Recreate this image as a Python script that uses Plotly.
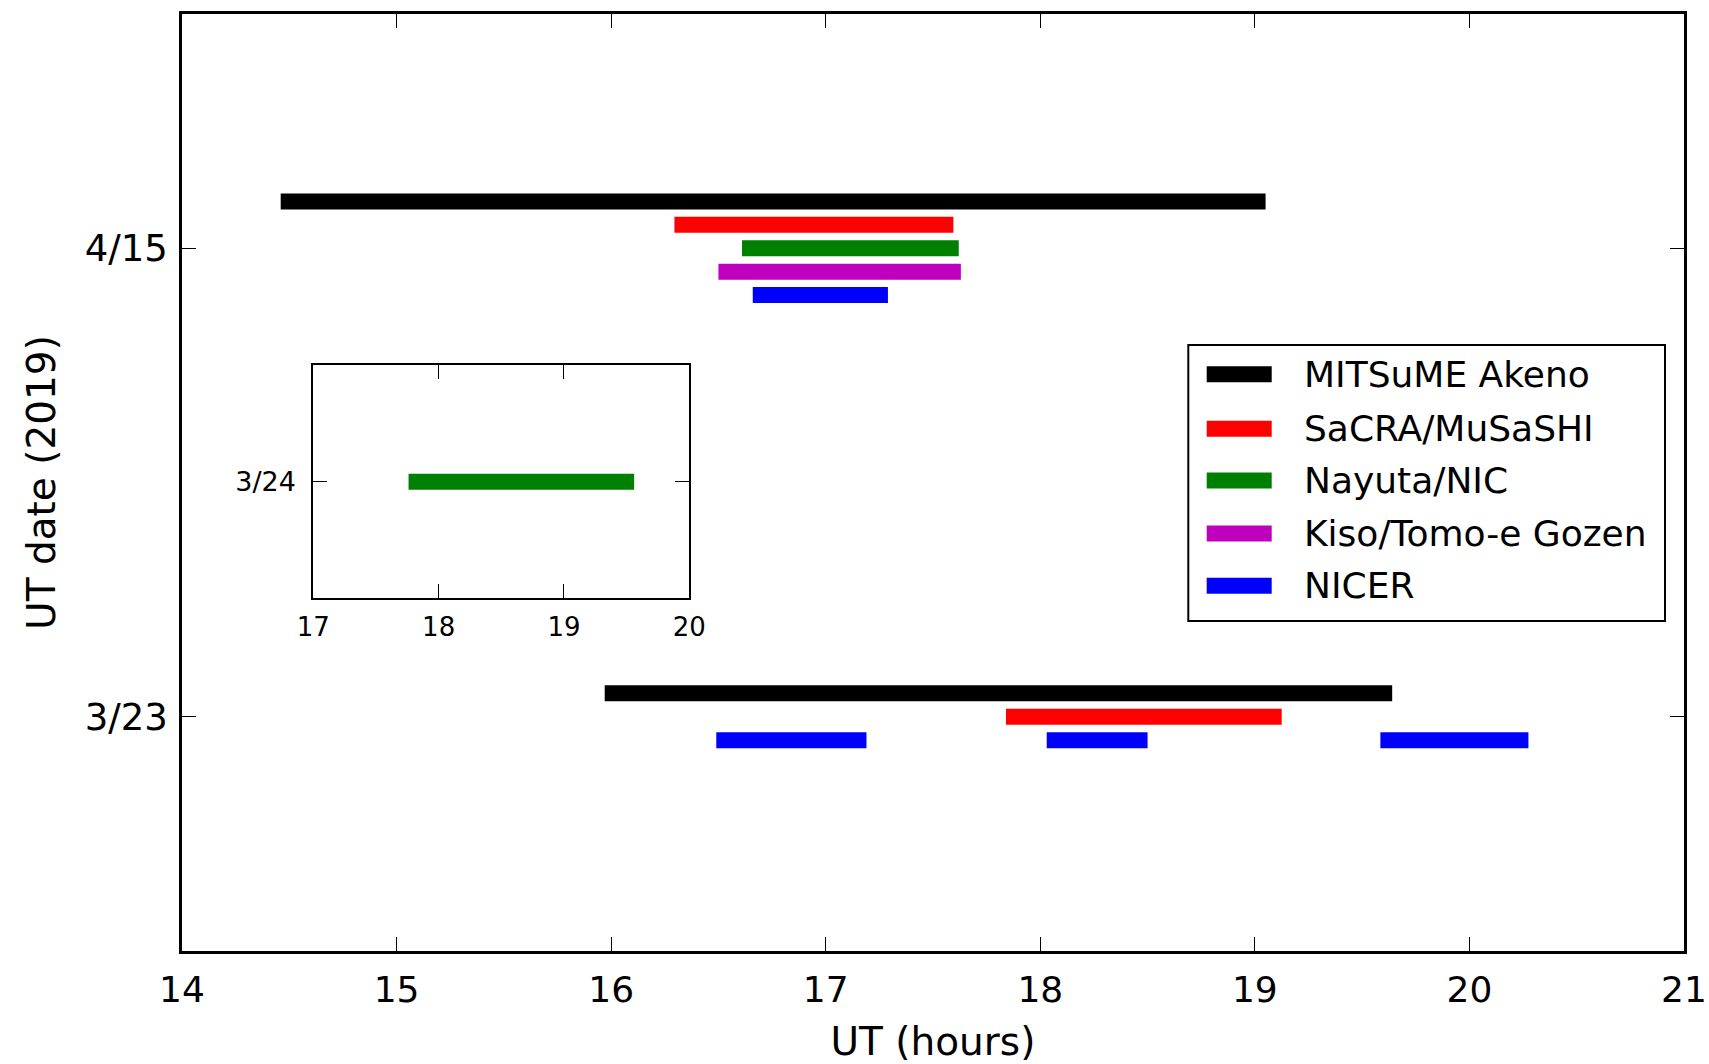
import plotly.graph_objects as go

# ---------------- data ----------------
instruments = ["MITSuME Akeno", "SaCRA/MuSaSHI", "Nayuta/NIC", "Kiso/Tomo-e Gozen", "NICER"]
colors = ["#000000", "#ff0000", "#008000", "#bf00bf", "#0000ff"]

date_labels = ["3/23", "4/15"]
date_values = [0, 1]

# 2019-04-15 (row value 1): one interval per instrument, stacked offsets
apr15_start = [14.46, 16.295, 16.61, 16.50, 16.66]
apr15_end = [19.05, 17.595, 17.62, 17.63, 17.29]
apr15_offset = [0.10, 0.05, 0.00, -0.05, -0.10]

# 2019-03-23 (row value 0)
mar23_instr = ["MITSuME Akeno", "SaCRA/MuSaSHI", "NICER", "NICER", "NICER"]
mar23_start = [15.97, 17.84, 16.49, 18.03, 19.585]
mar23_end = [19.64, 19.125, 17.19, 18.50, 20.275]
mar23_offset = [0.05, 0.00, -0.05, -0.05, -0.05]

# inset: 2019-03-24
inset_label = ["3/24"]
inset_instr = "Nayuta/NIC"
inset_start = [17.76]
inset_end = [19.56]

x_ticks_main = [14, 15, 16, 17, 18, 19, 20, 21]
x_ticks_inset = [17, 18, 19, 20]

# ---------------- figure ----------------
W, H = 1709, 1064
L, R, T, B = 182, 1684, 14, 951
FONT = "DejaVu Sans"
BAR_W = 16

fig = go.Figure()
cmap = dict(zip(instruments, colors))


def add_segments(xs0, xs1, ys, color, xaxis="x", yaxis="y"):
    xx, yy = [], []
    for a, b, y in zip(xs0, xs1, ys):
        xx += [a, b, None]
        yy += [y, y, None]
    fig.add_trace(go.Scatter(x=xx, y=yy, mode="lines",
                             line=dict(color=color, width=BAR_W),
                             showlegend=False, hoverinfo="skip",
                             xaxis=xaxis, yaxis=yaxis))


for name, s, e, o in zip(instruments, apr15_start, apr15_end, apr15_offset):
    add_segments([s], [e], [date_values[1] + o], cmap[name])

for name in instruments:
    idx = [i for i, n in enumerate(mar23_instr) if n == name]
    if idx:
        add_segments([mar23_start[i] for i in idx], [mar23_end[i] for i in idx],
                     [date_values[0] + mar23_offset[i] for i in idx], cmap[name])

add_segments(inset_start, inset_end, [0], cmap[inset_instr], "x2", "y2")

axis_common = dict(showline=True, linecolor="black", mirror="ticks",
                   ticks="inside", tickcolor="black", showgrid=False,
                   zeroline=False, automargin=False)

fig.update_layout(
    width=W, height=H, autosize=False,
    margin=dict(l=L, r=W - R, t=T, b=H - B, pad=0, autoexpand=False),
    paper_bgcolor="white", plot_bgcolor="white",
    font=dict(family=FONT, color="black"),
    showlegend=False,
    xaxis=dict(range=[14, 21], tickvals=x_ticks_main, ticklen=14, tickwidth=1.3,
               linewidth=2.5, tickfont=dict(size=36, family=FONT),
               ticklabelstandoff=5,
               title=dict(text="UT (hours)", font=dict(size=39, family=FONT), standoff=22),
               **axis_common),
    yaxis=dict(range=[-0.5, 1.5], tickvals=date_values, ticktext=date_labels,
               ticklen=14, tickwidth=1.3, linewidth=2.5,
               tickfont=dict(size=37, family=FONT), ticklabelstandoff=4,
               title=dict(text="UT date (2019)", font=dict(size=39, family=FONT), standoff=18),
               **axis_common),
    xaxis2=dict(domain=[(313.3 - L) / (R - L), (689.3 - L) / (R - L)], anchor="y2",
                range=[17, 20], tickvals=x_ticks_inset, ticklen=14, tickwidth=1.3,
                linewidth=2, tickfont=dict(size=26, family=FONT), ticklabelstandoff=4,
                **axis_common),
    yaxis2=dict(domain=[(B - 598.3) / (B - T), (B - 365) / (B - T)], anchor="x2",
                range=[-1, 1], tickvals=[0], ticktext=inset_label, ticklen=14,
                tickwidth=1.3, linewidth=2, tickfont=dict(size=27, family=FONT),
                ticklabelstandoff=10, **axis_common),
)

# ---------------- legend (drawn manually) ----------------
def px_x(p):
    return (p - L) / (R - L)


def px_y(p):
    return (B - p) / (B - T)


fig.add_shape(type="rect", xref="paper", yref="paper",
              x0=px_x(1188.3), x1=px_x(1665), y0=px_y(621), y1=px_y(345),
              line=dict(color="black", width=2), fillcolor="white", layer="above")
leg_y = [374.3, 428.7, 480.5, 533.5, 585.7]
for name, c, yy in zip(instruments, colors, leg_y):
    fig.add_shape(type="line", xref="paper", yref="paper",
                  x0=px_x(1206.7), x1=px_x(1271.7), y0=px_y(yy), y1=px_y(yy),
                  line=dict(color=c, width=BAR_W), layer="above")
    fig.add_annotation(xref="paper", yref="paper", x=px_x(1302), y=px_y(yy),
                       text=name, showarrow=False, xanchor="left", yanchor="middle",
                       font=dict(size=36, family=FONT, color="black"))

fig.write_html("out.html", config={"responsive": False})
